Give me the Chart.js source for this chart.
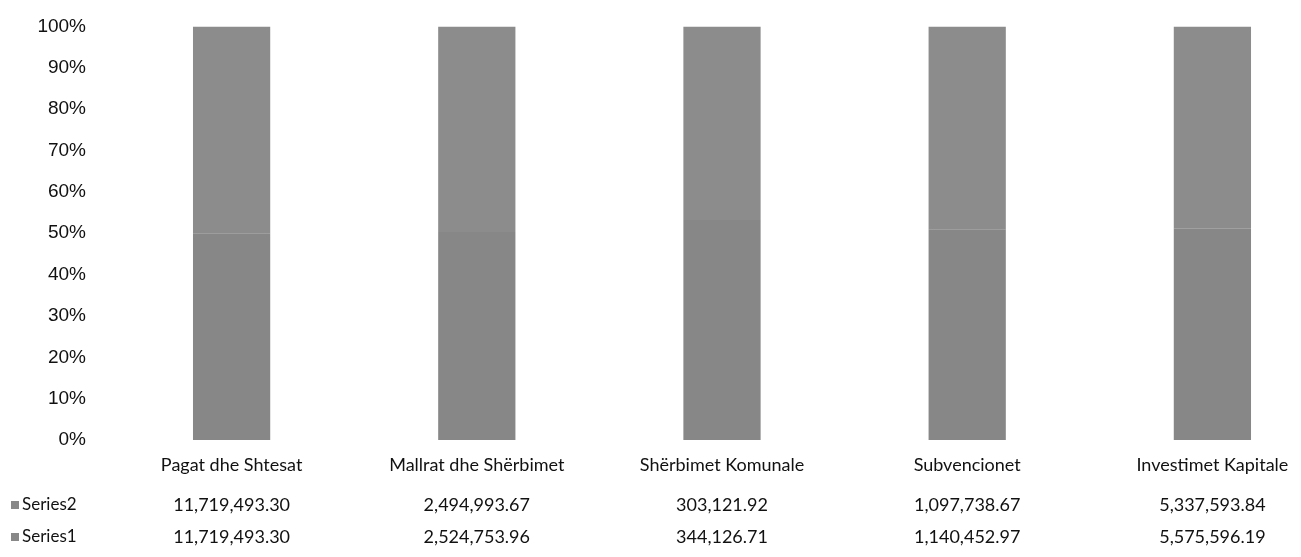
<!DOCTYPE html>
<html>
<head>
<meta charset="utf-8">
<script src="https://cdn.jsdelivr.net/npm/chart.js@4.4.0/dist/chart.umd.min.js"></script>
<style>
  html, body { margin: 0; padding: 0; background: #fff; overflow: hidden; }
  #wrap { position: absolute; left: 0; top: 0; width: 1335px; height: 557px; }
</style>
</head>
<body>
<div id="wrap"><canvas id="grafico"></canvas></div>
<script>
// datos del grafico
const categorias = ['Pagat dhe Shtesat', 'Mallrat dhe Shërbimet', 'Shërbimet Komunale', 'Subvencionet', 'Investimet Kapitale'];
const serie1 = [11719493.30, 2524753.96, 344126.71, 1140452.97, 5575596.19];
const serie2 = [11719493.30, 2494993.67, 303121.92, 1097738.67, 5337593.84];
const nombresSeries = ['Series2', 'Series1'];

function formatear(v) {
    return v.toLocaleString('en-US', { minimumFractionDigits: 2, maximumFractionDigits: 2 });
}

// porcentajes para la pila al 100%
const total = serie1.map((v, i) => v + serie2[i]);
const pct1 = serie1.map((v, i) => v / total[i] * 100);
const pct2 = serie2.map((v, i) => v / total[i] * 100);

// tabla de datos bajo el eje
const tablaDatos = {
    id: 'tablaDatos',
    afterDraw(chart) {
        const ctx = chart.ctx;
        const x = chart.scales.x;
        ctx.save();
        ctx.fillStyle = '#111';
        ctx.textBaseline = 'middle';
        ctx.font = '18px Lato, "Open Sans", sans-serif';
        ctx.textAlign = 'center';
        categorias.forEach((c, i) => {
            const px = x.getPixelForValue(i);
            ctx.fillText(c, px, 465);
            ctx.fillText(formatear(serie2[i]), px, 505);
            ctx.fillText(formatear(serie1[i]), px, 537);
        });
        // etiquetas de las series
        ctx.textAlign = 'left';
        ctx.font = '17px Lato, "Open Sans", sans-serif';
        [505, 537].forEach((y, k) => {
            ctx.fillStyle = '#888';
            ctx.fillRect(11, y - 4, 8, 8);
            ctx.fillStyle = '#111';
            ctx.fillText(nombresSeries[k], 22, y);
        });
        ctx.restore();
    }
};

const ctx = document.getElementById('grafico').getContext('2d');
new Chart(ctx, {
    type: 'bar',
    data: {
        labels: categorias,
        datasets: [
            { label: 'Series1', data: pct1, backgroundColor: '#878787', borderWidth: 0 },
            { label: 'Series2', data: pct2, backgroundColor: '#8c8c8c', borderWidth: 0 }
        ]
    },
    options: {
        responsive: true,
        maintainAspectRatio: false,
        animation: false,
        categoryPercentage: 1,
        barPercentage: 0.315,
        layout: { padding: { top: -11, bottom: 117, left: 0, right: 0 } },
        plugins: {
            legend: { display: false },
            tooltip: { enabled: false }
        },
        scales: {
            x: {
                stacked: true,
                display: false
            },
            y: {
                stacked: true,
                min: 0,
                max: 100,
                grid: { display: false },
                border: { display: false },
                ticks: {
                    stepSize: 10,
                    padding: 15,
                    color: '#111',
                    font: { family: '"Liberation Sans", Arial, sans-serif', size: 19 },
                    callback: v => v + '%'
                },
                afterFit(scale) { scale.width = 109; }
            }
        }
    },
    plugins: [tablaDatos]
});
</script>
</body>
</html>
